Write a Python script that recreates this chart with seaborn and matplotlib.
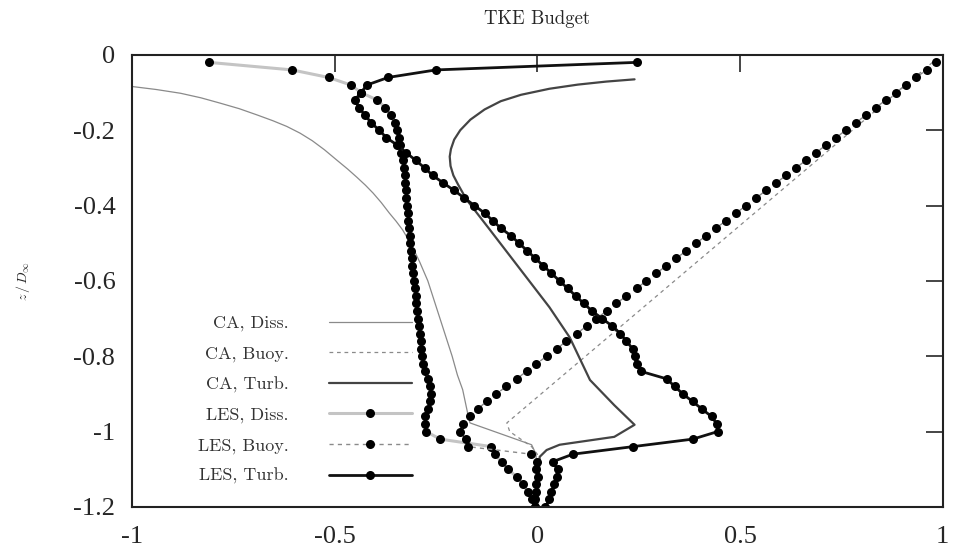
import matplotlib
matplotlib.use("Agg")
import matplotlib.pyplot as plt
import pandas as pd
import seaborn as sns

# LES output levels (z / D)
z_les = [-0.02, -0.04, -0.06, -0.08, -0.10, -0.12, -0.14, -0.16, -0.18, -0.20,
         -0.22, -0.24, -0.26, -0.28, -0.30, -0.32, -0.34, -0.36, -0.38, -0.40,
         -0.42, -0.44, -0.46, -0.48, -0.50, -0.52, -0.54, -0.56, -0.58, -0.60,
         -0.62, -0.64, -0.66, -0.68, -0.70, -0.72, -0.74, -0.76, -0.78, -0.80,
         -0.82, -0.84, -0.86, -0.88, -0.90, -0.92, -0.94, -0.96, -0.98, -1.00,
         -1.02, -1.04, -1.06, -1.08, -1.10, -1.12, -1.14, -1.16, -1.18, -1.20]

les_diss = [-0.810, -0.605, -0.515, -0.460, -0.435, -0.395, -0.375, -0.362, -0.352, -0.346,
            -0.342, -0.338, -0.335, -0.332, -0.329, -0.327, -0.326, -0.324, -0.323, -0.322,
            -0.320, -0.318, -0.317, -0.315, -0.314, -0.312, -0.310, -0.308, -0.306, -0.304,
            -0.302, -0.300, -0.298, -0.296, -0.294, -0.292, -0.290, -0.288, -0.286, -0.284,
            -0.281, -0.276, -0.270, -0.265, -0.263, -0.265, -0.270, -0.276, -0.278, -0.274,
            -0.240, -0.113, -0.105, -0.088, -0.072, -0.051, -0.036, -0.023, -0.014, -0.005]

les_buoy = [0.984, 0.961, 0.934, 0.909, 0.885, 0.860, 0.835, 0.811, 0.786, 0.761,
            0.737, 0.712, 0.687, 0.663, 0.638, 0.614, 0.589, 0.564, 0.540, 0.515,
            0.491, 0.466, 0.441, 0.417, 0.392, 0.368, 0.343, 0.318, 0.294, 0.269,
            0.245, 0.220, 0.195, 0.171, 0.146, 0.122, 0.097, 0.072, 0.048, 0.023,
            -0.002, -0.026, -0.051, -0.076, -0.101, -0.125, -0.147, -0.166, -0.183, -0.191,
            -0.177, -0.171, -0.015, 0.000, -0.002, 0.001, -0.002, -0.004, -0.006, -0.005]

les_turb = [0.245, -0.250, -0.368, -0.420, -0.435, -0.450, -0.440, -0.425, -0.410, -0.390,
            -0.372, -0.345, -0.323, -0.300, -0.278, -0.258, -0.232, -0.205, -0.180, -0.155,
            -0.130, -0.110, -0.090, -0.065, -0.045, -0.025, -0.005, 0.015, 0.035, 0.055,
            0.075, 0.095, 0.115, 0.135, 0.160, 0.185, 0.205, 0.220, 0.235, 0.240,
            0.245, 0.255, 0.319, 0.339, 0.359, 0.383, 0.406, 0.430, 0.443, 0.445,
            0.384, 0.236, 0.088, 0.038, 0.050, 0.048, 0.042, 0.035, 0.030, 0.020]

# model (CA) profiles
ca_diss_z = [-0.06, -0.084, -0.092, -0.102, -0.114, -0.128, -0.143, -0.160, -0.175, -0.190,
             -0.208, -0.228, -0.252, -0.279, -0.303, -0.325, -0.346, -0.367, -0.392, -0.420,
             -0.442, -0.465, -0.505, -0.550, -0.600, -0.650, -0.700, -0.750, -0.800, -0.850,
             -0.889, -0.950, -0.977, -1.035, -1.060, -1.200]
ca_diss_x = [-1.200, -1.000, -0.940, -0.880, -0.830, -0.783, -0.735, -0.690, -0.652, -0.618,
             -0.585, -0.555, -0.525, -0.495, -0.468, -0.445, -0.424, -0.405, -0.385, -0.365,
             -0.348, -0.332, -0.310, -0.290, -0.270, -0.255, -0.240, -0.225, -0.210, -0.197,
             -0.184, -0.172, -0.166, -0.014, -0.003, 0.000]

ca_buoy_z = [-0.02, -0.977, -1.00, -1.04, -1.06, -1.20]
ca_buoy_x = [0.975, -0.075, -0.068, -0.014, 0.000, 0.000]

ca_turb_z = [-0.065, -0.071, -0.079, -0.090, -0.106, -0.123, -0.145, -0.172, -0.200, -0.225,
             -0.250, -0.270, -0.295, -0.320, -0.345, -0.385, -0.460, -0.530, -0.600, -0.670,
             -0.750, -0.863, -0.930, -0.982, -1.014, -1.035, -1.049, -1.067, -1.200]
ca_turb_x = [0.240, 0.170, 0.100, 0.030, -0.040, -0.090, -0.130, -0.165, -0.190, -0.205,
             -0.213, -0.216, -0.214, -0.207, -0.195, -0.174, -0.120, -0.070, -0.020, 0.030,
             0.080, 0.130, 0.190, 0.240, 0.190, 0.055, 0.023, 0.006, 0.000]

series = [
    ("CA, Diss.", ca_diss_x, ca_diss_z, dict(color="#8a8a8a", lw=0.9)),
    ("CA, Buoy.", ca_buoy_x, ca_buoy_z, dict(color="#8a8a8a", lw=0.9, dashes=(3, 3))),
    ("CA, Turb.", ca_turb_x, ca_turb_z, dict(color="#444444", lw=1.6)),
    ("LES, Diss.", les_diss, z_les, dict(color="#c4c4c4", lw=2.2, marker="o")),
    ("LES, Buoy.", les_buoy, z_les, dict(color="#8a8a8a", lw=1.0, dashes=(3, 3), marker="o")),
    ("LES, Turb.", les_turb, z_les, dict(color="#111111", lw=2.0, marker="o")),
]

sns.set_style("white")
plt.rcParams["axes.unicode_minus"] = False
plt.rcParams["mathtext.fontset"] = "cm"

fig = plt.figure(figsize=(9.56, 5.54), dpi=100)
ax = fig.add_axes([0.138, 0.085, 0.848, 0.816])

for name, xs, zs, st in series:
    df = pd.DataFrame({"x": xs, "z": zs})
    kw = dict(color=st["color"], lw=st["lw"], label=name)
    if "dashes" in st:
        kw["dashes"] = st["dashes"]
    if "marker" in st:
        kw.update(marker="o", markersize=6.5, markerfacecolor="black",
                  markeredgecolor="black", markeredgewidth=0)
    sns.lineplot(data=df, x="x", y="z", sort=False, estimator=None, ax=ax, **kw)

ax.set_xlim(-1, 1)
ax.set_ylim(-1.2, 0)
ax.set_xticks([-1, -0.5, 0, 0.5, 1])
ax.set_xticklabels(["-1", "-0.5", "0", "0.5", "1"])
ax.set_yticks([0, -0.2, -0.4, -0.6, -0.8, -1, -1.2])
ax.set_yticklabels(["0", "-0.2", "-0.4", "-0.6", "-0.8", "-1", "-1.2"])
ax.tick_params(direction="in", length=12, width=1.2, top=True, right=True,
               labelsize=19)
ax.tick_params(axis="x", pad=14)
ax.tick_params(axis="y", pad=12)
for lab in ax.get_xticklabels() + ax.get_yticklabels():
    lab.set_family("Liberation Serif")
for sp in ax.spines.values():
    sp.set_linewidth(1.5)
    sp.set_color("#222222")

ax.set_xlabel("")
ax.set_ylabel(r"$z\,/\,D_\infty$", fontsize=10, labelpad=30)
ax.set_title("TKE Budget", fontfamily="cmr10", fontsize=13.5, pad=22)

leg = ax.legend(loc="center right", bbox_to_anchor=(0.345, 0.237), frameon=False,
                markerfirst=False, handlelength=4.6, handletextpad=2.2,
                labelspacing=0.8, borderpad=0, borderaxespad=0,
                prop={"family": "cmr10", "size": 13})
for t in leg.get_texts():
    t.set_color("#333333")

fig.savefig("out.png", dpi=100)
